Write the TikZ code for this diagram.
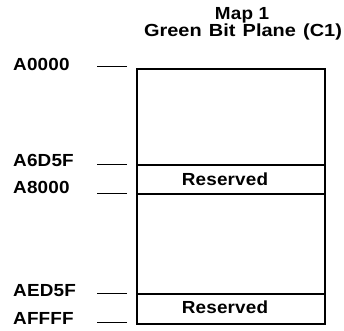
\documentclass[tikz,border=0pt]{standalone}
\usepackage{fontspec}
\setmainfont{Liberation Sans}[FakeStretch=1.08, LetterSpace=1]
\newfontfamily\ttlfont{Liberation Sans}[FakeStretch=1.14, WordSpace=1.3]
\begin{document}
\begin{tikzpicture}[x=1pt,y=-1pt,
  every node/.style={font=\fontsize{17.5}{19}\selectfont\bfseries, inner sep=0pt},
  region/.style={draw, line width=1.6pt, minimum width=188pt, anchor=north west},
  tick/.style={line width=0.9pt},
  addr/.style={anchor=base west},
  ttl/.style={anchor=base}]
\useasboundingbox (0,0) rectangle (344,330);
% title
\node[ttl] (t1) at (242,19.5) {Map 1};
\node[ttl, font=\fontsize{17.5}{19}\ttlfont\bfseries] (t2) at (243,36) {Green Bit Plane (C1)};
% regions
\node[region, minimum height=96pt] (r1) at (136,68) {};
\node[region, minimum height=29pt] (r2) at (136,164) {};
\node[region, minimum height=100pt] (r3) at (136,193) {};
\node[region, minimum height=30pt] (r4) at (136,293) {};
\node[anchor=base] (res1) at (225,185) {Reserved};
\node[anchor=base] (res2) at (225,313.5) {Reserved};
% ticks
\coordinate (k1) at (127,66);
\coordinate (k2) at (127,164);
\coordinate (k3) at (127,193);
\coordinate (k4) at (127,293);
\coordinate (k5) at (127,322);
\foreach \k in {k1,k2,k3,k4,k5} \draw[tick] (\k) -- ++(-30,0);
% addresses
\node[addr] (a1) at (13,70) {A0000};
\node[addr] (a2) at (13,166.5) {A6D5F};
\node[addr] (a3) at (13,193.5) {A8000};
\node[addr] (a4) at (13,296.5) {AED5F};
\node[addr] (a5) at (13,324.5) {AFFFF};
\end{tikzpicture}
\end{document}
